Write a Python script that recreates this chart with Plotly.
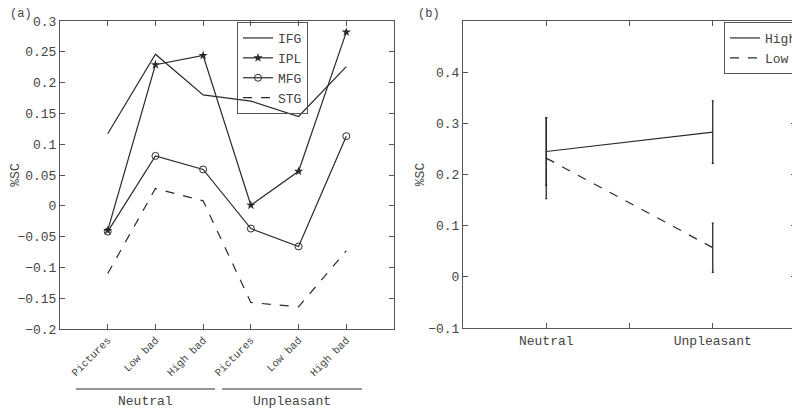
import plotly.graph_objects as go

# ---------- data ----------
conditions = ["Pictures", "Low bad", "High bad", "Pictures", "Low bad", "High bad"]
groups = ["Neutral", "Unpleasant"]
IFG = [0.117, 0.246, 0.180, 0.170, 0.145, 0.226]
IPL = [-0.040, 0.229, 0.244, 0.001, 0.056, 0.282]
MFG = [-0.042, 0.081, 0.059, -0.037, -0.066, 0.113]
STG = [-0.110, 0.028, 0.008, -0.157, -0.164, -0.073]

left_yticks = [-0.2, -0.15, -0.1, -0.05, 0, 0.05, 0.1, 0.15, 0.2, 0.25, 0.3]
left_ytext = ["\u22120.2", "\u22120.15", "\u22120.1", "\u22120.05", "0", "0.05", "0.1", "0.15", "0.2", "0.25", "0.3"]

emotion = ["Neutral", "Unpleasant"]
high = [0.245, 0.283]
high_err = [0.066, 0.061]
low = [0.232, 0.057]
low_err = [0.079, 0.048]
right_yticks = [-0.1, 0, 0.1, 0.2, 0.3, 0.4]
right_ytext = ["\u22120.1", "0", "0.1", "0.2", "0.3", "0.4"]

FONT = "Liberation Mono, Courier New, monospace"
LINE = "#2a2a2a"
AX = "#555555"
TXT = "#444444"

W = 800.0
H = 409.0
OFF = 8  # page body margin of the html page


def px(X):
    return (X - OFF) / W


def py(Y):
    return 1 - (Y - OFF) / H


xpos = list(range(1, len(conditions) + 1))
epos = [1, 2]

fig = go.Figure()

fig.add_trace(go.Scatter(x=xpos, y=IFG, name="IFG", mode="lines",
                         line=dict(color=LINE, width=1.2), xaxis="x", yaxis="y", legend="legend"))
fig.add_trace(go.Scatter(x=xpos, y=IPL, name="IPL", mode="lines+markers",
                         line=dict(color=LINE, width=1.2),
                         marker=dict(symbol="star", size=7, color=LINE), xaxis="x", yaxis="y", legend="legend"))
fig.add_trace(go.Scatter(x=xpos, y=MFG, name="MFG", mode="lines+markers",
                         line=dict(color=LINE, width=1.2),
                         marker=dict(symbol="circle-open", size=7, color=LINE, line=dict(width=1)),
                         xaxis="x", yaxis="y", legend="legend"))
fig.add_trace(go.Scatter(x=xpos, y=STG, name="STG", mode="lines",
                         line=dict(color=LINE, width=1.2, dash="dash"), xaxis="x", yaxis="y", legend="legend"))

fig.add_trace(go.Scatter(x=epos, y=high, name="High", mode="lines",
                         line=dict(color=LINE, width=1.2),
                         error_y=dict(type="data", array=high_err, color=LINE, thickness=1.3, width=1),
                         xaxis="x2", yaxis="y2", legend="legend2"))
fig.add_trace(go.Scatter(x=epos, y=low, name="Low", mode="lines",
                         line=dict(color=LINE, width=1.2, dash="dash"),
                         error_y=dict(type="data", array=low_err, color=LINE, thickness=1.3, width=1),
                         xaxis="x2", yaxis="y2", legend="legend2"))

axcommon = dict(showline=True, linecolor=AX, linewidth=1, mirror="ticks", ticks="inside",
                ticklen=5, tickcolor=AX, showgrid=False, zeroline=False, automargin=False,
                tickfont=dict(family=FONT, size=13, color=TXT))

fig.update_layout(
    width=800, height=409, margin=dict(l=0, r=0, t=0, b=0, autoexpand=False),
    paper_bgcolor="white", plot_bgcolor="white",
    font=dict(family=FONT, color=TXT),
    xaxis=dict(domain=[px(60), px(394)], range=[0, 7], tickvals=xpos, ticktext=conditions,
               tickangle=-45, **{**axcommon, "tickfont": dict(family=FONT, size=10.5, color=TXT)}),
    yaxis=dict(domain=[py(329), py(21)], range=[-0.2, 0.3], tickvals=left_yticks,
               ticktext=left_ytext, title=dict(text="%SC", font=dict(family=FONT, size=13, color=TXT), standoff=0),
               **axcommon),
    xaxis2=dict(domain=[px(463), px(796)], range=[0.5, 2.5], tickvals=[1, 1.5, 2],
                ticktext=[emotion[0], "", emotion[1]], anchor="y2", **axcommon),
    yaxis2=dict(domain=[py(328), py(21)], range=[-0.1, 0.5], tickvals=right_yticks,
                ticktext=right_ytext, anchor="x2",
                title=dict(text="%SC", font=dict(family=FONT, size=13, color=TXT), standoff=0),
                **axcommon),
    legend=dict(x=px(237), y=py(22), xanchor="left", yanchor="top", bgcolor="rgba(255,255,255,0)",
                bordercolor=AX, borderwidth=1, font=dict(family=FONT, size=13, color=TXT),
                tracegroupgap=0, itemwidth=30, entrywidth=32, entrywidthmode="pixels"),
    legend2=dict(x=px(724), y=py(22), xanchor="left", yanchor="top", bgcolor="white",
                 bordercolor=AX, borderwidth=1, font=dict(family=FONT, size=13, color=TXT),
                 itemwidth=30),
    showlegend=True,
)

# panel labels
fig.add_annotation(text="(a)", x=px(8), y=py(5), xref="paper", yref="paper",
                   xanchor="left", yanchor="top", showarrow=False, font=dict(family=FONT, size=12, color=TXT))
fig.add_annotation(text="(b)", x=px(416), y=py(5), xref="paper", yref="paper",
                   xanchor="left", yanchor="top", showarrow=False, font=dict(family=FONT, size=12, color=TXT))

# group brackets under the left axis
for (x0, x1, label) in [(76, 215, groups[0]), (222, 362, groups[1])]:
    fig.add_shape(type="line", xref="paper", yref="paper", x0=px(x0), x1=px(x1),
                  y0=py(389), y1=py(389), line=dict(color=LINE, width=1))
    fig.add_annotation(text=label, x=px((x0 + x1) / 2), y=py(401), xref="paper", yref="paper",
                       xanchor="center", yanchor="middle", showarrow=False,
                       font=dict(family=FONT, size=13, color=TXT))

fig.write_html("out.html")
